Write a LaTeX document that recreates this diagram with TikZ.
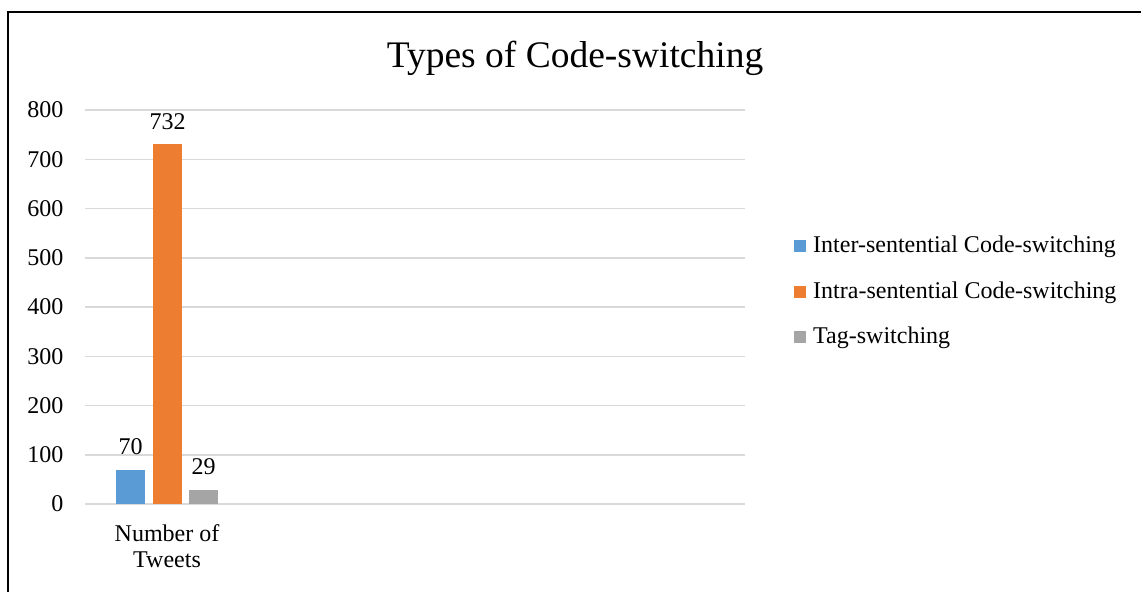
\documentclass[tikz,border=0pt]{standalone}
\usepackage{fontspec}
\setmainfont{Liberation Serif}
\usetikzlibrary{positioning}
\definecolor{csinter}{RGB}{91,155,213}
\definecolor{csintra}{RGB}{237,125,49}
\definecolor{cstag}{RGB}{165,165,165}
\definecolor{csgrid}{RGB}{217,217,217}
\tikzset{
  lbl/.style={font=\fontsize{24}{26}\selectfont,inner sep=0pt,align=center},
  bar/.style={anchor=south,minimum width=29pt,inner sep=0pt,outer sep=0pt},
  key/.style={minimum size=12pt,inner sep=0pt},
  grid/.style={draw=csgrid,line width=1.5pt},
}
\begin{document}
\begin{tikzpicture}[x=1pt,y=-1pt]
\useasboundingbox (0,0) rectangle (1141,592);
% frame
\draw[line width=1.5pt] (8,592) -- (8,12) -- (1141,12);
% title
\node[lbl,font=\fontsize{37.5}{44}\selectfont,anchor=base] (title) at (575,67) {Types of Code-switching};
% value axis and grid
\foreach \v in {0,100,...,800}
  {\draw[grid] (85,504-\v*0.4925) -- (745,504-\v*0.4925);
   \node[lbl,anchor=east] (tick\v) at (63.5,504-\v*0.4925) {\v};}
% bars
\node[bar,fill=csinter,minimum height=34.5pt] (inter) at (130.5,504) {};
\node[bar,fill=csintra,minimum height=360.5pt] (intra) at (167.5,504) {};
\node[bar,fill=cstag,minimum height=14.3pt] (tag) at (203.5,504) {};
\node[lbl,above=15pt of inter] (vinter) {70};
\node[lbl,above=14pt of intra] (vintra) {732};
\node[lbl,above=15pt of tag] (vtag) {29};
% category
\node[lbl,anchor=north] (cat) at (167,524) {Number of\\Tweets};
% legend
\node[key,fill=csinter] (kinter) at (800,246) {};
\node[key,fill=csintra] (kintra) at (800,292) {};
\node[key,fill=cstag] (ktag) at (800,337) {};
\node[lbl,anchor=base west] (linter) at (813,252) {Inter-sentential Code-switching};
\node[lbl,anchor=base west] (lintra) at (813,298) {Intra-sentential Code-switching};
\node[lbl,anchor=base west] (ltag) at (813,343) {Tag-switching};
\end{tikzpicture}
\end{document}
